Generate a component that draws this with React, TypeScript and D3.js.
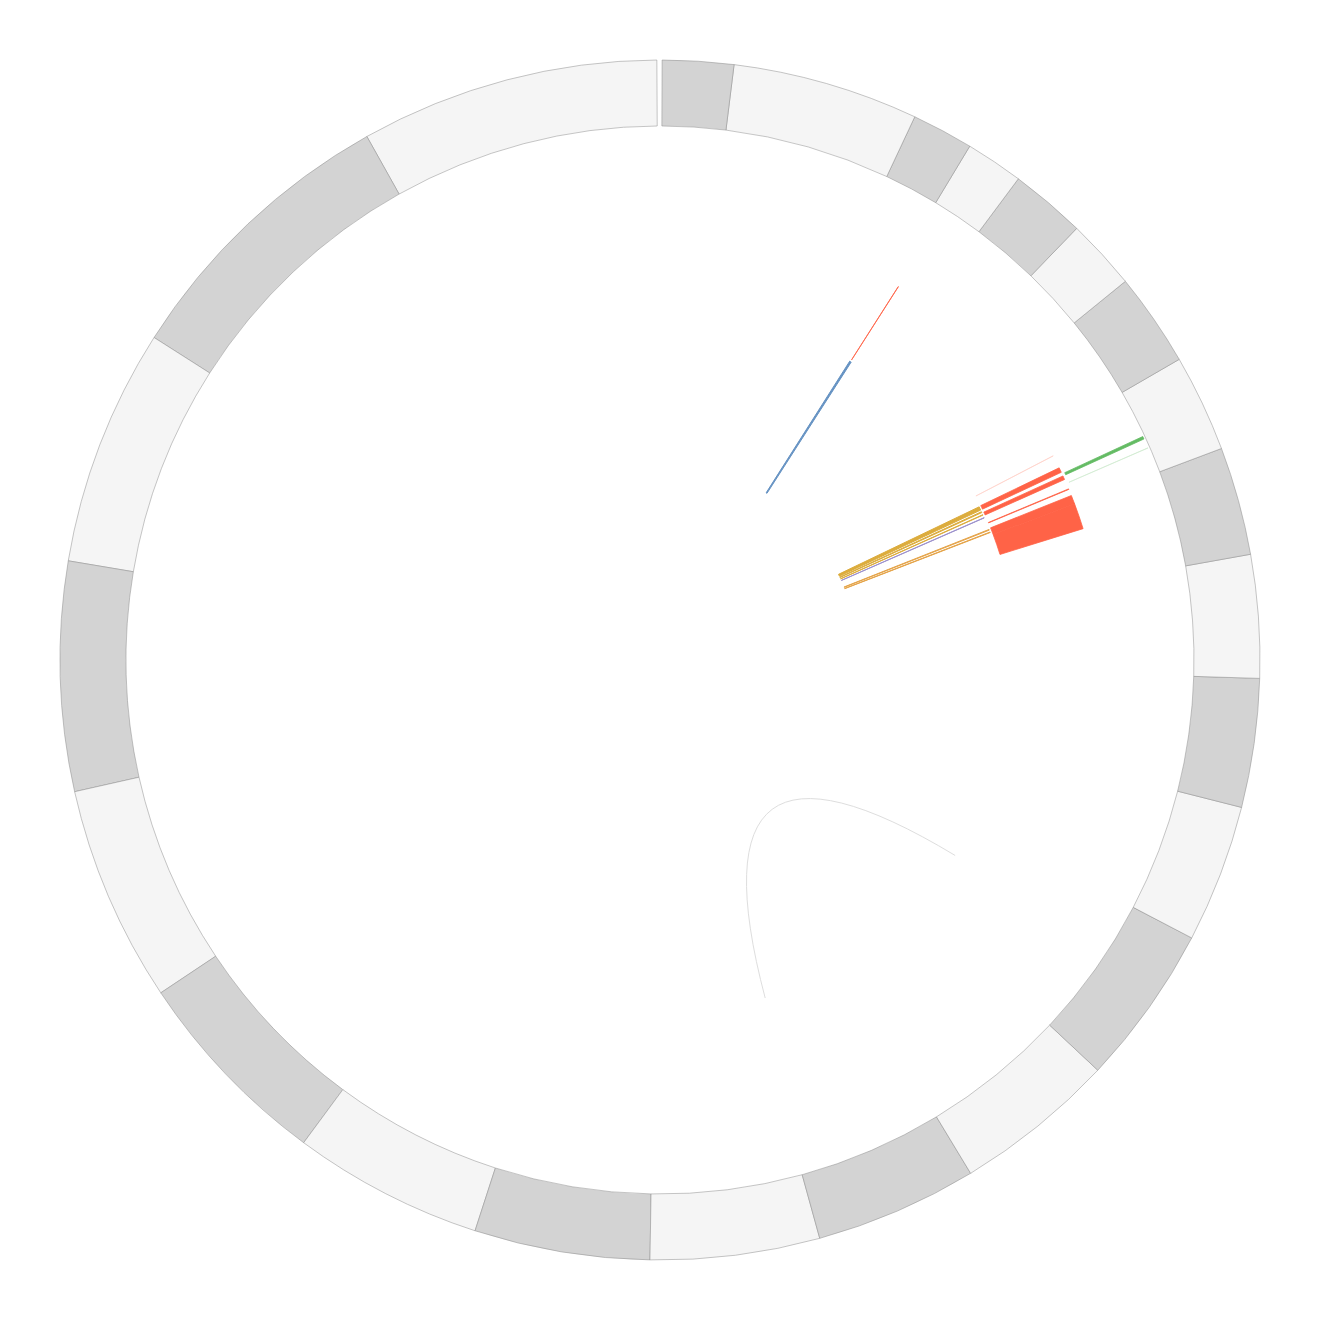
import * as d3 from "d3";

const WIDTH = 1320;
const HEIGHT = 1320;
const CX = 660;
const CY = 660;

// hg19 chromosome sizes
const chromNames = [
  "chr1", "chr2", "chr3", "chr4", "chr5", "chr6", "chr7", "chr8", "chr9", "chr10", "chr11", "chr12",
  "chr13", "chr14", "chr15", "chr16", "chr17", "chr18", "chr19", "chr20", "chr21", "chr22", "chrX", "chrY",
];
const chromLengths = [
  249250621, 243199373, 198022430, 191154276, 180915260, 171115067, 159138663, 146364022,
  141213431, 135534747, 135006516, 133851895, 115169878, 107349540, 102531392, 90354753,
  81195210, 78077248, 59128983, 63025520, 48129895, 51304566, 155270560, 59373566,
];

// inner track (mutations)
const mutChrom = ["chr21", "chr17", "chr17", "chr17", "chr17", "chr17", "chr17"];
const mutStart = [34.3e6, 38.0e6, 34.2e6, 30.3e6, 26.0e6, 7.6e6, 4.0e6];
const mutEnd = [36.7e6, 43.0e6, 35.4e6, 30.9e6, 26.4e6, 8.6e6, 4.7e6];
const mutType = ["missense", "frameshift", "frameshift", "frameshift", "splice", "nonsense", "nonsense"];

// middle track (copy number)
const cnvChrom = ["chr21", "chr17", "chr17", "chr17", "chr17", "chr17", "chr16"];
const cnvStart = [35.4e6, 58.4e6, 38.1e6, 29.3e6, 17.3e6, 0, 61.1e6];
const cnvEnd = [35.6e6, 58.6e6, 43.6e6, 33.6e6, 17.9e6, 9.9e6, 90354753];
const cnvLevel = ["high", "low", "high", "high", "high", "high", "high"];

// outer track (expression)
const expChrom = ["chr17", "chr17"];
const expStart = [33.6e6, 24.4e6];
const expEnd = [36.1e6, 24.6e6];
const expLevel = ["high", "low"];

// links
const linkSourceChrom = ["chr12"];
const linkSourcePos = [82.9e6];
const linkTargetChrom = ["chr10"];
const linkTargetPos = [15.9e6];

const RING = { inner: 534, outer: 600 };
const TRACK1 = { inner: 198, outer: 354 };
const TRACK2 = { inner: 356, outer: 443 };
const TRACK3 = { inner: 446, outer: 532 };

const mutColor: Record<string, string> = {
  missense: "#4a7fb8",
  frameshift: "#d69e1c",
  splice: "#8c7fc4",
  nonsense: "#e0942a",
};

export default function App() {
  const offsets = [0, ...d3.cumsum(chromLengths)];
  const total = offsets[offsets.length - 1];
  const deg = Math.PI / 180;
  const angle = d3.scaleLinear().domain([0, total]).range([359.7 * deg, 0.2 * deg]);
  const gpos = (chr: string, pos: number) => angle(offsets[chromNames.indexOf(chr)] + pos);
  const polar = (a: number, r: number): [number, number] => [r * Math.sin(a), -r * Math.cos(a)];

  const arc = d3.arc<any>();

  const ring = chromNames.map((name, i) => ({
    name,
    d: arc({
      innerRadius: RING.inner,
      outerRadius: RING.outer,
      startAngle: angle(offsets[i]),
      endAngle: angle(offsets[i + 1]),
    }),
    fill: i % 2 === 0 ? "#f5f5f5" : "#d3d3d3",
  }));

  const feature = (chr: string, s: number, e: number, t: { inner: number; outer: number }) =>
    arc({ innerRadius: t.inner, outerRadius: t.outer, startAngle: gpos(chr, s), endAngle: gpos(chr, e) });

  const links = linkSourceChrom.map((c, i) => {
    const a0 = gpos(c, linkSourcePos[i]);
    const a1 = gpos(linkTargetChrom[i], linkTargetPos[i]);
    const p0 = polar(a0, TRACK1.outer);
    const p1 = polar(a1, TRACK1.outer);
    const k = 0.12;
    const ctrl = [((p0[0] + p1[0]) / 2) * k, ((p0[1] + p1[1]) / 2) * k];
    const p = d3.path();
    p.moveTo(p0[0], p0[1]);
    p.quadraticCurveTo(ctrl[0], ctrl[1], p1[0], p1[1]);
    return p.toString();
  });

  return (
    <svg
      width={WIDTH}
      height={HEIGHT}
      style={{ position: "absolute", left: 0, top: 0, background: "#fff" }}
    >
      <g transform={`translate(${CX},${CY})`}>
        {ring.map((r) => (
          <path key={r.name} d={r.d ?? ""} fill={r.fill} stroke="#8c8c8c" strokeWidth={0.5} />
        ))}
        {links.map((d, i) => (
          <path key={i} d={d} fill="none" stroke="#dedede" strokeWidth={1} />
        ))}
        {mutChrom.map((c, i) => (
          <path
            key={"m" + i}
            d={feature(c, mutStart[i], mutEnd[i], TRACK1) ?? ""}
            fill={mutColor[mutType[i]]}
            stroke={mutColor[mutType[i]]}
            strokeWidth={1}
            opacity={0.85}
          />
        ))}
        {cnvChrom.map((c, i) => (
          <path
            key={"c" + i}
            d={feature(c, cnvStart[i], cnvEnd[i], TRACK2) ?? ""}
            fill="#ff6347"
            stroke="#ff6347"
            strokeWidth={cnvLevel[i] === "high" ? 0.8 : 0.6}
            opacity={cnvLevel[i] === "high" ? 1 : 0.3}
          />
        ))}
        {expChrom.map((c, i) => (
          <path
            key={"e" + i}
            d={feature(c, expStart[i], expEnd[i], TRACK3) ?? ""}
            fill="#5cb85c"
            stroke="#5cb85c"
            strokeWidth={expLevel[i] === "high" ? 0.8 : 0.6}
            opacity={expLevel[i] === "high" ? 0.95 : 0.3}
          />
        ))}
      </g>
    </svg>
  );
}
